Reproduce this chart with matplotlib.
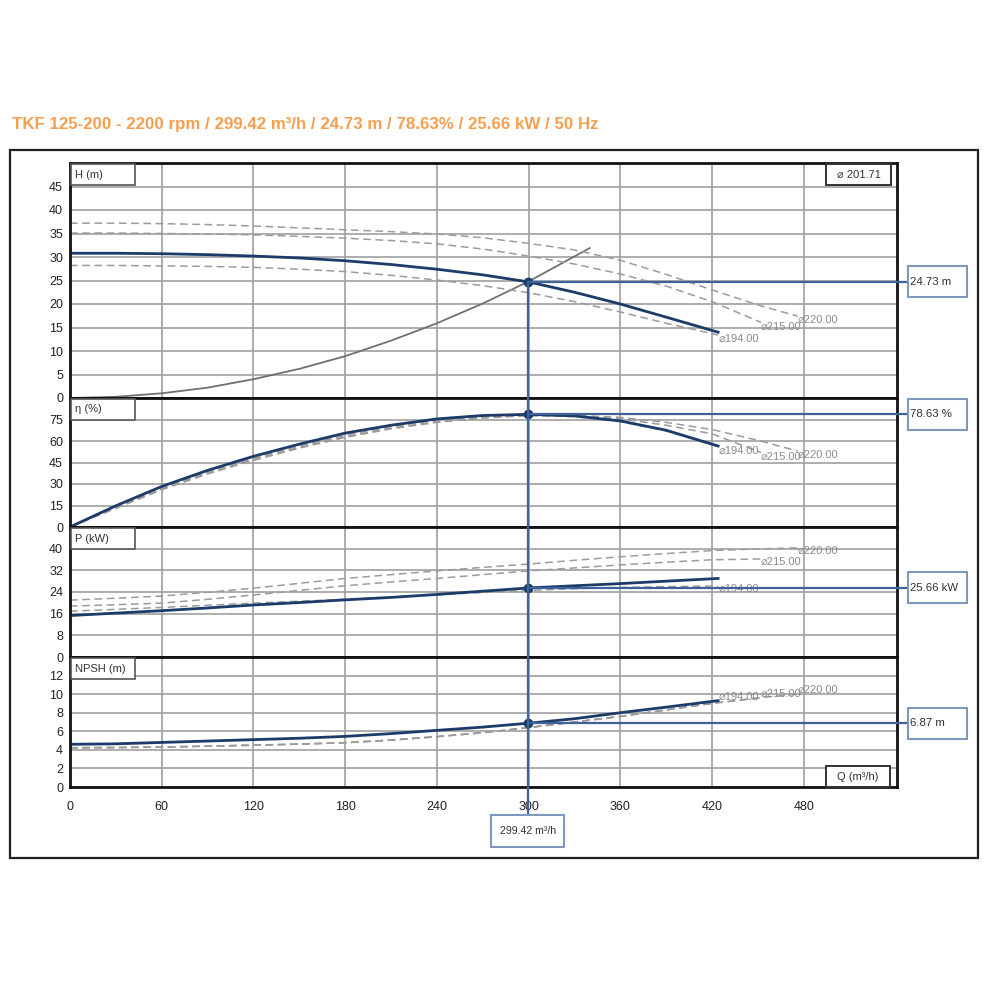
import matplotlib
matplotlib.use('Agg')
import matplotlib.pyplot as plt
from matplotlib.patches import Rectangle
from matplotlib.lines import Line2D

plt.rcParams['font.family'] = ['Liberation Sans', 'DejaVu Sans']

# ---------------- data ----------------
title = "TKF 125-200 - 2200 rpm / 299.42 m³/h / 24.73 m / 78.63% / 25.66 kW / 50 Hz"

q_op = 299.42
h_op = 24.73
eta_op = 78.63
p_op = 25.66
npsh_op = 6.87

# main curve (Ø201.71)
q_main = [0, 30, 60, 90, 120, 150, 180, 210, 240, 270, 300, 330, 360, 390, 424]
h_main = [30.8, 30.8, 30.7, 30.5, 30.2, 29.8, 29.2, 28.4, 27.4, 26.2, 24.7, 22.5, 20.0, 17.2, 14.0]
eta_main = [0, 14.8, 28.3, 39.5, 49.3, 57.8, 65.5, 71.0, 75.4, 77.8, 78.6, 77.5, 74.0, 67.5, 56.5]
p_main = [15.3, 16.2, 17.1, 18.1, 19.2, 20.1, 21.1, 22.0, 23.1, 24.3, 25.5, 26.3, 27.1, 28.0, 29.0]
npsh_main = [4.6, 4.65, 4.8, 4.95, 5.1, 5.25, 5.45, 5.75, 6.1, 6.45, 6.87, 7.35, 8.0, 8.6, 9.3]

# Ø194.00
q_194 = [0, 30, 60, 90, 120, 150, 180, 210, 240, 270, 300, 330, 360, 390, 424]
h_194 = [28.2, 28.2, 28.1, 28.0, 27.8, 27.4, 26.9, 26.1, 25.1, 23.9, 22.4, 20.5, 18.3, 15.9, 13.4]
eta_194 = [0, 14.0, 27.0, 38.5, 48.0, 56.5, 64.0, 70.0, 74.5, 77.0, 78.0, 77.0, 73.5, 67.0, 56.0]
p_194 = [16.9, 17.6, 18.3, 19.1, 19.9, 20.6, 21.3, 22.1, 23.0, 23.8, 24.6, 25.2, 25.7, 26.0, 26.2]
npsh_194 = [4.23, 4.25, 4.3, 4.4, 4.5, 4.62, 4.77, 5.05, 5.42, 5.85, 6.4, 7.0, 7.6, 8.3, 9.2]

# Ø215.00
q_215 = [0, 30, 60, 90, 120, 150, 180, 210, 240, 270, 300, 330, 360, 390, 420, 452]
h_215 = [35.1, 35.1, 35.0, 34.9, 34.7, 34.4, 34.0, 33.5, 32.8, 31.7, 30.2, 28.5, 26.4, 23.8, 20.5, 16.1]
eta_215 = [0, 13.5, 26.5, 37.5, 47.0, 55.5, 63.0, 69.0, 73.5, 76.5, 77.8, 77.5, 75.5, 71.0, 65.0, 52.0]
p_215 = [18.8, 19.3, 19.9, 21.3, 22.9, 24.6, 26.3, 27.7, 29.0, 30.4, 31.8, 32.9, 34.0, 35.0, 35.9, 36.2]
npsh_215 = [4.23, 4.25, 4.3, 4.4, 4.5, 4.62, 4.77, 5.05, 5.42, 5.85, 6.4, 7.0, 7.6, 8.3, 9.0, 9.6]

# Ø220.00
q_220 = [0, 30, 60, 90, 120, 150, 180, 210, 240, 270, 300, 330, 360, 390, 420, 450, 476]
h_220 = [37.2, 37.2, 37.1, 36.9, 36.6, 36.2, 35.8, 35.4, 34.9, 34.1, 32.9, 31.5, 29.3, 26.3, 23.0, 19.8, 17.4]
eta_220 = [0, 13.0, 26.0, 37.0, 46.5, 55.0, 62.5, 68.5, 73.0, 76.0, 77.6, 77.8, 76.5, 73.0, 68.0, 60.5, 53.0]
p_220 = [21.0, 21.7, 22.5, 23.9, 25.4, 27.2, 29.0, 30.4, 31.8, 33.1, 34.3, 35.7, 37.0, 38.2, 39.3, 39.9, 40.3]
npsh_220 = [4.23, 4.25, 4.3, 4.4, 4.5, 4.62, 4.77, 5.05, 5.42, 5.85, 6.4, 7.0, 7.6, 8.3, 9.0, 9.6, 10.0]

# system curve
q_sys = [0, 30, 60, 90, 120, 150, 180, 210, 240, 270, 300, 340]
h_sys = [0, 0.25, 1.0, 2.2, 4.0, 6.2, 8.9, 12.2, 15.9, 20.1, 24.8, 31.9]

x_ticks = [0, 60, 120, 180, 240, 300, 360, 420, 480]
h_ticks = [0, 5, 10, 15, 20, 25, 30, 35, 40, 45]
eta_ticks = [0, 15, 30, 45, 60, 75]
p_ticks = [0, 8, 16, 24, 32, 40]
npsh_ticks = [0, 2, 4, 6, 8, 10, 12]

panel_labels = ["H (m)", "η (%)", "P (kW)", "NPSH (m)"]
value_labels = ["24.73 m", "78.63 %", "25.66 kW", "6.87 m"]
diam_labels = ["⌀194.00", "⌀215.00", "⌀220.00"]
main_diam_label = "⌀ 201.71"
q_axis_label = "Q (m³/h)"
q_value_label = "299.42 m³/h"

# ---------------- styling ----------------
NAVY = '#1d3b68'
LINK = '#3e639a'
DASH = '#9b9b9b'
GRID = '#a0a0a0'
ORANGE = '#f5a050'

fig = plt.figure(figsize=(10, 10), dpi=100)
W = H = 1000.0


def fr(x0, y0, x1, y1):
    return [x0 / W, 1 - y1 / H, (x1 - x0) / W, (y1 - y0) / H]


# outer frame
fig.add_artist(Rectangle((10 / W, 1 - 858 / H), 968 / W, 708 / H, transform=fig.transFigure,
                         fill=False, edgecolor='#222222', lw=1.6))

fig.text(12 / W, 1 - 125 / H, title, color=ORANGE, fontsize=12.2, fontweight='bold',
         ha='left', va='center')

XMAX = 541
panels = [
    (163, 398, (0, 50), h_ticks),
    (398, 527, (0, 90), eta_ticks),
    (527, 657, (0, 48), p_ticks),
    (657, 787, (0, 14), npsh_ticks),
]
axes = []
for i, (y0, y1, ylim, yt) in enumerate(panels):
    ax = fig.add_axes(fr(70, y0, 897, y1))
    ax.set_xlim(0, XMAX)
    ax.set_ylim(*ylim)
    ax.set_yticks(yt)
    ax.set_xticks(x_ticks)
    ax.grid(True, color=GRID, lw=1.2)
    ax.set_axisbelow(True)
    ax.tick_params(axis='y', length=0, pad=5, labelsize=9, labelcolor='#222222')
    ax.tick_params(axis='x', length=0, pad=10, labelsize=9, labelcolor='#222222')
    if i < 3:
        ax.tick_params(axis='x', labelbottom=False)
    for s in ax.spines.values():
        s.set_linewidth(2)
        s.set_color('#111111')
    axes.append(ax)

axH, axE, axP, axN = axes

dash_kw = dict(color=DASH, lw=1.1, dashes=(5, 3))
main_kw = dict(color=NAVY, lw=2.0)

# H
axH.plot(q_sys, h_sys, color='#707070', lw=1.3)
axH.plot(q_194, h_194, **dash_kw)
axH.plot(q_215, h_215, **dash_kw)
axH.plot(q_220, h_220, **dash_kw)
axH.plot(q_main, h_main, **main_kw)
# eta
axE.plot(q_194, eta_194, **dash_kw)
axE.plot(q_215, eta_215, **dash_kw)
axE.plot(q_220, eta_220, **dash_kw)
axE.plot(q_main, eta_main, **main_kw)
# P
axP.plot(q_194, p_194, **dash_kw)
axP.plot(q_215, p_215, **dash_kw)
axP.plot(q_220, p_220, **dash_kw)
axP.plot(q_main, p_main, **main_kw)
# NPSH
axN.plot(q_194, npsh_194, **dash_kw)
axN.plot(q_215, npsh_215, **dash_kw)
axN.plot(q_220, npsh_220, **dash_kw)
axN.plot(q_main, npsh_main, **main_kw)

# diameter labels at curve ends
series = [
    (axH, [(q_194, h_194), (q_215, h_215), (q_220, h_220)], -3),
    (axE, [(q_194, eta_194), (q_215, eta_215), (q_220, eta_220)], -3),
    (axP, [(q_194, p_194), (q_215, p_215), (q_220, p_220)], -2),
    (axN, [(q_194, npsh_194), (q_215, npsh_215), (q_220, npsh_220)], 3),
]
for ax, curves, dy in series:
    for lab, (qq, vv) in zip(diam_labels, curves):
        ax.annotate(lab, (qq[-1], vv[-1]), xytext=(0, dy), textcoords='offset points',
                    ha='left', va='center', fontsize=8, color='#8a8a8a')

# operating point connectors
fig.canvas.draw()
inv = fig.transFigure.inverted()
ops = [(axH, h_op), (axE, eta_op), (axP, p_op), (axN, npsh_op)]
pts = []
for ax, v in ops:
    pts.append(inv.transform(ax.transData.transform((q_op, v))))

x_op = pts[0][0]
fig.add_artist(Line2D([x_op, x_op], [pts[0][1], 1 - 815 / H], transform=fig.transFigure,
                      color=LINK, lw=1.6, zorder=5))
for (ax, v), p, lab in zip(ops, pts, value_labels):
    fig.add_artist(Line2D([p[0], 908 / W], [p[1], p[1]], transform=fig.transFigure,
                          color=LINK, lw=1.6, zorder=5))
    ax.plot([q_op], [v], 'o', color=NAVY, ms=6, zorder=6, clip_on=False)
    # value box
    bh = 31 / H
    fig.add_artist(Rectangle((908 / W, p[1] - bh / 2), 59 / W, bh, transform=fig.transFigure,
                             facecolor='white', edgecolor='#8098bd', lw=1.5, zorder=6))
    fig.text(910 / W, p[1], lab, fontsize=8.2, color='#333333', ha='left', va='center', zorder=7)

# bottom Q box
fig.add_artist(Rectangle((x_op - 36.5 / W, 1 - 847 / H), 73 / W, 32 / H, transform=fig.transFigure,
                         facecolor='white', edgecolor='#8098bd', lw=1.5, zorder=6))
fig.text(x_op, 1 - 831 / H, q_value_label, fontsize=7.6, color='#333333', ha='center',
         va='center', zorder=7)

# panel title boxes
for (y0, y1, _, _), lab in zip(panels, panel_labels):
    fig.add_artist(Rectangle((71 / W, 1 - (y0 + 22) / H), 64 / W, 21 / H, transform=fig.transFigure,
                             facecolor='white', edgecolor='#555555', lw=1.2, zorder=8))
    fig.text(75 / W, 1 - (y0 + 11.5) / H, lab, fontsize=8, color='#333333', ha='left',
             va='center', zorder=9)

# top-right diameter box
fig.add_artist(Rectangle((826 / W, 1 - 185 / H), 65 / W, 21 / H, transform=fig.transFigure,
                         facecolor='white', edgecolor='#333333', lw=1.4, zorder=8))
fig.text(858.5 / W, 1 - 174.5 / H, main_diam_label, fontsize=8, color='#333333',
         ha='center', va='center', zorder=9)
# bottom-right Q axis box
fig.add_artist(Rectangle((826 / W, 1 - 787 / H), 64 / W, 21 / H, transform=fig.transFigure,
                         facecolor='white', edgecolor='#333333', lw=1.4, zorder=8))
fig.text(858 / W, 1 - 776.5 / H, q_axis_label, fontsize=8, color='#333333',
         ha='center', va='center', zorder=9)

fig.savefig('out.png', dpi=100, facecolor='white')
